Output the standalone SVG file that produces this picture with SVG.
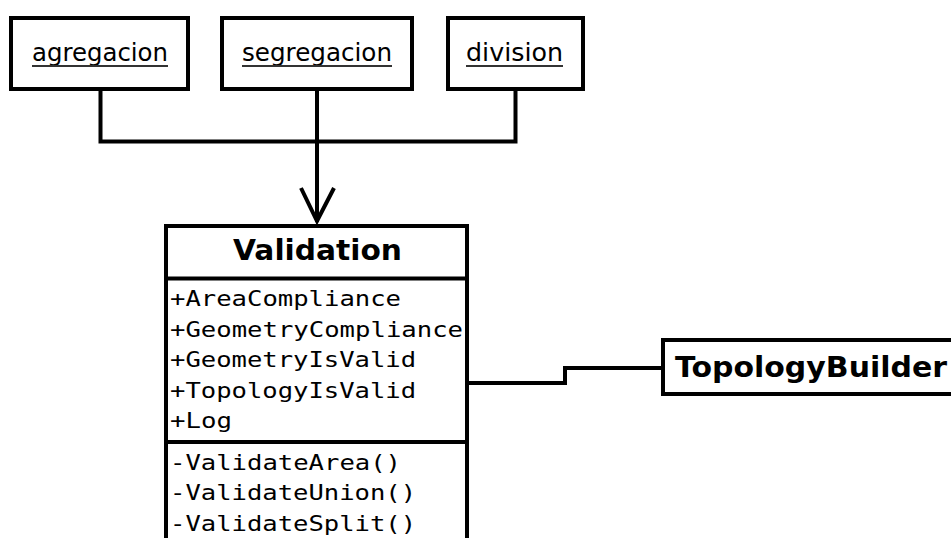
<svg xmlns="http://www.w3.org/2000/svg" width="951" height="538" viewBox="0 0 951 538">
  <style>
    .box { fill: #ffffff; stroke: #000000; stroke-width: 4; }
    .wire { fill: none; stroke: #000000; stroke-width: 4; }
    .obj { font-family: "DejaVu Sans", "Liberation Sans", sans-serif; font-size: 25px; fill: #000000; }
    .uline { stroke: #333333; stroke-width: 2; }
    .title { font-family: "DejaVu Sans", "Liberation Sans", sans-serif; font-size: 28px; font-weight: bold; fill: #000000; }
    .member { font-family: "DejaVu Sans Mono", "Liberation Mono", monospace; font-size: 22px; fill: #000000; }
  </style>
  <rect width="951" height="538" fill="#ffffff"/>

  <!-- connectors -->
  <g id="connectors">
    <path class="wire" d="M100.5 89 V141.5 H515.5 V89"/>
    <path class="wire" d="M317 89 V222"/>
    <polyline class="wire" points="301,188 317,221 334,188"/>
    <path class="wire" d="M467 383 H565 V368 H663"/>
  </g>

  <!-- instance nodes -->
  <g id="agregacion">
    <rect class="box" x="11" y="18" width="177" height="71"/>
    <text class="obj" x="32" y="61" textLength="136" lengthAdjust="spacingAndGlyphs">agregacion</text>
    <line class="uline" x1="32" y1="66" x2="168" y2="66"/>
  </g>
  <g id="segregacion">
    <rect class="box" x="222" y="18" width="190" height="71"/>
    <text class="obj" x="242" y="61" textLength="150" lengthAdjust="spacingAndGlyphs">segregacion</text>
    <line class="uline" x1="242" y1="66" x2="392" y2="66"/>
  </g>
  <g id="division">
    <rect class="box" x="448" y="18" width="135" height="71"/>
    <text class="obj" x="466" y="61" textLength="97" lengthAdjust="spacingAndGlyphs">division</text>
    <line class="uline" x1="466" y1="66" x2="563" y2="66"/>
  </g>

  <!-- class node -->
  <g id="Validation">
    <rect class="box" x="166" y="226" width="301" height="340"/>
    <line class="wire" x1="166" y1="278.5" x2="467" y2="278.5"/>
    <line class="wire" x1="166" y1="442" x2="467" y2="442"/>
    <text class="title" x="233" y="260" textLength="169" lengthAdjust="spacingAndGlyphs">Validation</text>
    <text class="member" x="170" y="306" textLength="231" lengthAdjust="spacingAndGlyphs">+AreaCompliance</text>
    <text class="member" x="170" y="337" textLength="293" lengthAdjust="spacingAndGlyphs">+GeometryCompliance</text>
    <text class="member" x="170" y="367" textLength="246" lengthAdjust="spacingAndGlyphs">+GeometryIsValid</text>
    <text class="member" x="170" y="398" textLength="246" lengthAdjust="spacingAndGlyphs">+TopologyIsValid</text>
    <text class="member" x="170" y="428" textLength="62" lengthAdjust="spacingAndGlyphs">+Log</text>
    <text class="member" x="170" y="470" textLength="231" lengthAdjust="spacingAndGlyphs">-ValidateArea()</text>
    <text class="member" x="170" y="500" textLength="246" lengthAdjust="spacingAndGlyphs">-ValidateUnion()</text>
    <text class="member" x="170" y="531" textLength="246" lengthAdjust="spacingAndGlyphs">-ValidateSplit()</text>
  </g>

  <g id="TopologyBuilder">
    <rect class="box" x="663" y="340" width="320" height="54"/>
    <text class="title" x="675" y="377" textLength="272" lengthAdjust="spacingAndGlyphs">TopologyBuilder</text>
  </g>
</svg>
